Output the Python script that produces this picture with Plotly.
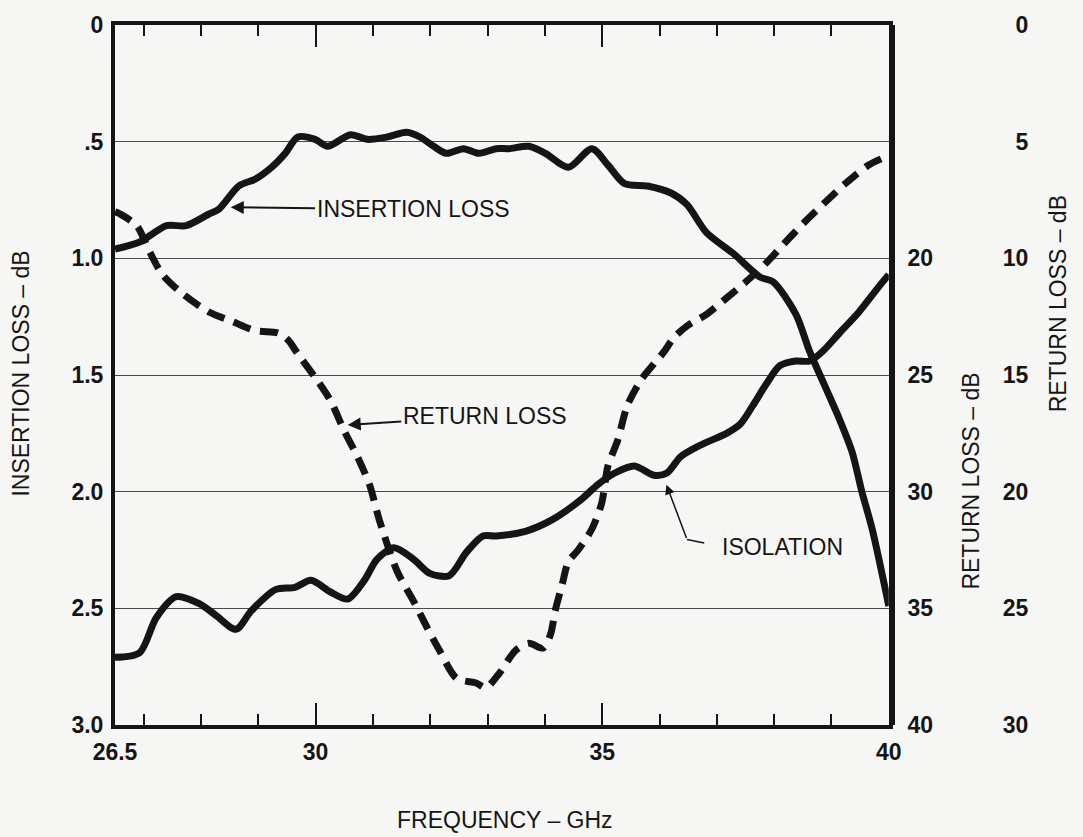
import plotly.graph_objects as go

# Insertion loss (dB) vs frequency (GHz)
FREQ_IL = [26.5, 26.93, 27.40, 27.74, 28.14, 28.31, 28.66, 28.95, 29.23, 29.47, 29.69,
           29.99, 30.21, 30.61, 30.90, 31.25, 31.59, 31.82, 32.06, 32.28, 32.58, 32.85,
           33.15, 33.37, 33.72, 34.01, 34.41, 34.82, 35.10, 35.39, 35.79, 36.20, 36.48,
           36.82, 37.29, 37.75, 37.98, 38.38, 38.62, 38.89, 39.14, 39.36, 39.53, 39.71, 40.0]
INSERTION_LOSS = [0.96, 0.93, 0.86, 0.86, 0.81, 0.79, 0.69, 0.66, 0.61, 0.55, 0.48,
                  0.49, 0.52, 0.47, 0.49, 0.48, 0.46, 0.48, 0.52, 0.55, 0.53, 0.55,
                  0.53, 0.53, 0.52, 0.55, 0.61, 0.53, 0.60, 0.68, 0.69, 0.72, 0.77,
                  0.89, 0.98, 1.08, 1.10, 1.24, 1.40, 1.55, 1.69, 1.83, 2.00, 2.16, 2.49]

# Return loss (dB) vs frequency (GHz)
FREQ_RL = [26.5, 26.59, 26.88, 27.10, 27.33, 27.67, 28.14, 28.54, 28.95, 29.35, 29.52,
           29.69, 29.99, 30.26, 30.50, 30.73, 30.94, 31.11, 31.42, 31.71, 31.94, 32.16,
           32.46, 32.80, 32.97, 33.20, 33.49, 33.72, 33.97, 34.10, 34.18, 34.30, 34.41,
           34.58, 34.82, 34.99, 35.10, 35.27, 35.44, 35.68, 35.91, 36.08, 36.25, 36.48,
           36.82, 37.17, 37.51, 37.86, 38.20, 38.55, 38.89, 39.24, 39.65, 40.0]
RETURN_LOSS = [18.0, 18.1, 18.6, 19.7, 20.7, 21.5, 22.3, 22.7, 23.1, 23.2, 23.5,
               24.1, 25.1, 26.1, 27.4, 28.5, 29.7, 31.2, 33.4, 34.7, 35.8, 36.8,
               38.0, 38.2, 38.4, 37.8, 36.8, 36.5, 36.7, 36.1, 35.1, 34.0, 33.0,
               32.5, 31.6, 30.5, 28.9, 27.8, 26.3, 25.2, 24.5, 24.0, 23.4, 22.9,
               22.4, 21.7, 21.0, 20.2, 19.3, 18.4, 17.6, 16.8, 16.0, 15.6]

# Isolation (dB) vs frequency (GHz)
FREQ_ISO = [26.5, 26.93, 27.22, 27.57, 27.97, 28.26, 28.61, 28.88, 29.30, 29.64, 29.92,
            30.26, 30.56, 30.85, 31.07, 31.37, 31.71, 31.99, 32.33, 32.63, 32.92, 33.15,
            33.66, 34.13, 34.65, 34.92, 35.22, 35.56, 35.91, 36.13, 36.37, 36.72, 37.17,
            37.41, 37.63, 37.86, 38.10, 38.38, 38.62, 38.84, 39.14, 39.48, 39.83, 40.0]
ISOLATION = [27.1, 26.9, 25.4, 24.5, 24.8, 25.3, 25.9, 25.1, 24.2, 24.1, 23.8,
             24.3, 24.6, 23.8, 22.9, 22.4, 22.9, 23.5, 23.6, 22.6, 21.9, 21.9,
             21.7, 21.2, 20.3, 19.7, 19.2, 18.9, 19.3, 19.2, 18.5, 18.0, 17.5,
             17.1, 16.3, 15.4, 14.6, 14.4, 14.4, 14.0, 13.2, 12.3, 11.2, 10.7]

X_TICKS = [26.5, 30, 35, 40]
X_TICK_TEXT = ["26.5", "30", "35", "40"]
IL_TICKS = [0, 0.5, 1.0, 1.5, 2.0, 2.5, 3.0]
IL_TICK_TEXT = ["0", ".5", "1.0", "1.5", "2.0", "2.5", "3.0"]
RL_TICKS = [20, 25, 30, 35, 40]
ISO_TICKS = [0, 5, 10, 15, 20, 25, 30]

INK = "#151515"
BG = "#f6f6f4"
FONT = "Liberation Sans, Arial, sans-serif"
TICK_FONT = dict(family=FONT, size=23, color=INK, weight="bold")
TEXT_FONT = dict(family=FONT, size=23, color=INK)
TITLE_FONT = dict(family=FONT, size=23, color=INK)

X_DOMAIN = [0, 782 / 953]

fig = go.Figure()

fig.add_trace(go.Scatter(
    x=FREQ_IL, y=INSERTION_LOSS, mode="lines", yaxis="y",
    line=dict(color=INK, width=7, shape="spline", smoothing=0.8),
    name="INSERTION LOSS", showlegend=False, hoverinfo="skip"))

fig.add_trace(go.Scatter(
    x=FREQ_RL, y=RETURN_LOSS, mode="lines", yaxis="y2",
    line=dict(color=INK, width=7, shape="spline", smoothing=0.8, dash="18px,10px"),
    name="RETURN LOSS", showlegend=False, hoverinfo="skip"))

fig.add_trace(go.Scatter(
    x=FREQ_ISO, y=ISOLATION, mode="lines", yaxis="y3",
    line=dict(color=INK, width=7, shape="spline", smoothing=0.8),
    name="ISOLATION", showlegend=False, hoverinfo="skip"))

major_minor = dict(
    tickvals=X_TICKS, ticks="inside", ticklen=22, tickwidth=2, tickcolor=INK,
    minor=dict(tick0=26, dtick=1, ticks="inside", ticklen=11,
               tickwidth=2, tickcolor=INK, showgrid=False),
    showgrid=False, zeroline=False,
)

fig.update_layout(
    width=1083, height=837,
    margin=dict(l=115, r=15, t=18, b=112),
    paper_bgcolor=BG, plot_bgcolor=BG,
    xaxis=dict(
        domain=X_DOMAIN, range=[26.5, 40], ticktext=X_TICK_TEXT,
        showline=True, linewidth=4, linecolor=INK, mirror=True,
        tickfont=TICK_FONT, ticklabelstandoff=3, **major_minor,
    ),
    # top frame edge carries the same ticks, without labels
    xaxis2=dict(
        domain=X_DOMAIN, range=[26.5, 40], overlaying="x", side="top",
        anchor="y", matches="x", showticklabels=False, showline=False,
        **major_minor,
    ),
    yaxis=dict(
        range=[3.0, 0], tickvals=IL_TICKS, ticktext=IL_TICK_TEXT,
        showline=True, linewidth=4, linecolor=INK, mirror=True,
        showgrid=True, gridcolor="#4a4a4a", gridwidth=1,
        zeroline=False, ticks="", tickfont=TICK_FONT, ticklabelstandoff=3,
    ),
    yaxis2=dict(
        range=[40, 10], tickvals=RL_TICKS, ticktext=[str(v) for v in RL_TICKS],
        overlaying="y", side="right", anchor="x",
        showline=True, linewidth=6, linecolor=INK,
        showgrid=False, zeroline=False, ticks="",
        tickfont=TICK_FONT, ticklabelstandoff=8,
    ),
    yaxis3=dict(
        range=[30, 0], tickvals=ISO_TICKS, ticktext=[str(v) for v in ISO_TICKS],
        overlaying="y", side="left", anchor="free", position=(1038 - 115) / 953,
        showline=False, showgrid=False, zeroline=False, ticks="",
        tickfont=TICK_FONT,
    ),
)

# invisible trace so the top axis is drawn
fig.add_trace(go.Scatter(x=[26.5, 40], y=[None, None], xaxis="x2", yaxis="y",
                         mode="lines", showlegend=False, hoverinfo="skip"))

annotations = [
    # axis titles
    dict(text="INSERTION LOSS – dB", xref="paper", yref="paper",
         x=(20 - 115) / 953, y=0.502, textangle=-90, showarrow=False,
         xanchor="center", yanchor="middle", font=TITLE_FONT),
    dict(text="RETURN LOSS – dB", xref="paper", yref="paper",
         x=(980 - 115) / 953, y=0.349, textangle=-90, showarrow=False,
         xanchor="center", yanchor="middle", font=TITLE_FONT),
    dict(text="RETURN LOSS – dB", xref="paper", yref="paper",
         x=(1068 - 115) / 953, y=0.601, textangle=-90, showarrow=False,
         xanchor="center", yanchor="middle", font=TITLE_FONT),
    dict(text="FREQUENCY – GHz", xref="paper", yref="paper",
         x=(509 - 115) / 953, y=-(821 - 725) / 707, showarrow=False,
         xanchor="center", yanchor="middle", font=TITLE_FONT),
    # curve callouts
    dict(text="INSERTION LOSS", xref="x", yref="y", x=28.52, y=0.781,
         axref="x", ayref="y", ax=31.70, ay=0.79,
         showarrow=True, arrowhead=2, arrowsize=1.3, arrowwidth=2,
         arrowcolor=INK, font=TEXT_FONT),
    dict(text="RETURN LOSS", xref="x", yref="y", x=30.56, y=1.714,
         axref="x", ayref="y", ax=32.95, ay=1.676,
         showarrow=True, arrowhead=2, arrowsize=1.3, arrowwidth=2,
         arrowcolor=INK, font=TEXT_FONT),
    dict(text="ISOLATION", xref="x", yref="y", x=38.15, y=2.236,
         showarrow=False, font=TEXT_FONT),
    dict(text="", xref="x", yref="y", x=36.12, y=1.97,
         axref="x", ayref="y", ax=36.48, ay=2.205,
         showarrow=True, arrowhead=2, arrowsize=1.3, arrowwidth=1.5,
         arrowcolor=INK),
]
fig.update_layout(annotations=annotations)

fig.add_shape(type="line", xref="x", yref="y",
              x0=36.48, y0=2.205, x1=36.78, y1=2.22,
              line=dict(color=INK, width=1.5))

fig.write_html("out.html")
